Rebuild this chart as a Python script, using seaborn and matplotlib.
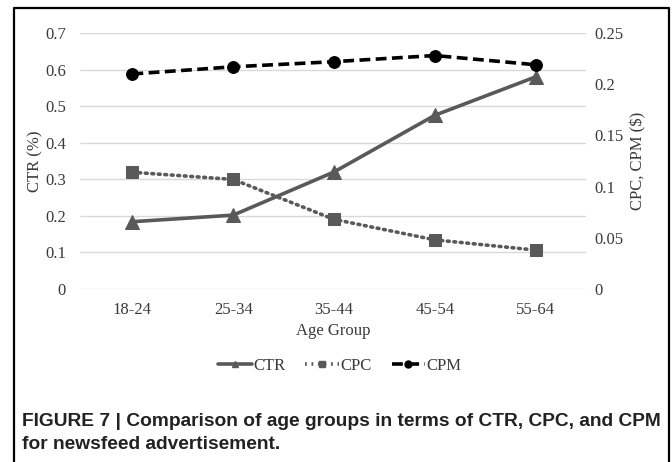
import matplotlib
matplotlib.use("Agg")
import matplotlib.pyplot as plt
from matplotlib.lines import Line2D
import seaborn as sns
import pandas as pd

age_groups = ["18-24", "25-34", "35-44", "45-54", "55-64"]
ctr = [0.184, 0.202, 0.320, 0.475, 0.580]
cpc = [0.114, 0.107, 0.068, 0.048, 0.038]
cpm = [0.210, 0.217, 0.222, 0.228, 0.219]
left_ticks = [0, 0.1, 0.2, 0.3, 0.4, 0.5, 0.6, 0.7]
left_labels = ["0", "0.1", "0.2", "0.3", "0.4", "0.5", "0.6", "0.7"]
right_ticks = [0, 0.05, 0.1, 0.15, 0.2, 0.25]
right_labels = ["0", "0.05", "0.1", "0.15", "0.2", "0.25"]
caption = ("FIGURE 7 | Comparison of age groups in terms of CTR, CPC, and CPM\n"
           "for newsfeed advertisement.")

sns.set_theme(style="white")
plt.rcParams["font.family"] = ["Liberation Serif", "DejaVu Serif"]

df = pd.DataFrame({"Age Group": age_groups, "CTR": ctr, "CPC": cpc, "CPM": cpm})

W, H = 672, 462
fig = plt.figure(figsize=(W / 100, H / 100), dpi=100)
ax = fig.add_axes([80 / W, 1 - 289 / H, (586 - 80) / W, (289 - 33) / H])
ax2 = ax.twinx()

gray = "#595959"
txt = "#3a3a3a"
sns.lineplot(data=df, x="Age Group", y="CTR", ax=ax, color=gray, lw=2.6,
             marker="^", markersize=10, markeredgecolor=gray, sort=False, zorder=3)
sns.lineplot(data=df, x="Age Group", y="CPC", ax=ax2, color=gray, lw=2.6,
             marker="s", markersize=8.5, markeredgecolor=gray, sort=False,
             dashes=False, zorder=3)
sns.lineplot(data=df, x="Age Group", y="CPM", ax=ax2, color="black", lw=2.6,
             marker="o", markersize=8.5, markeredgecolor="black", sort=False,
             dashes=False, zorder=3)
lines2 = ax2.get_lines()
lines2[0].set_linestyle((0, (0.5, 1.3)))
lines2[0].set_dash_capstyle("round")
lines2[1].set_linestyle((0, (3.0, 1.5)))

ax.set_xlim(-0.52, 4.5)
ax.set_ylim(0, 0.7)
ax2.set_ylim(0, 0.25)
ax.set_yticks(left_ticks)
ax.set_yticklabels(left_labels)
ax2.set_yticks(right_ticks)
ax2.set_yticklabels(right_labels)
ax.yaxis.grid(True, color="#d9d9d9", lw=1)
ax.set_axisbelow(True)
for a in (ax, ax2):
    for s in a.spines.values():
        s.set_visible(False)
    a.tick_params(length=0, labelsize=12, colors=txt)
ax.tick_params(axis="y", pad=10)
ax2.tick_params(axis="y", pad=6)
ax.tick_params(axis="x", pad=9)
ax.set_xlabel("Age Group", fontsize=12, color=txt, labelpad=4)
ax.set_ylabel("CTR (%)", fontsize=12, color=txt, labelpad=1)
ax2.set_ylabel("CPC, CPM ($)", fontsize=12, color=txt, labelpad=5)

handles = [
    Line2D([], [], color=gray, lw=2.6, marker="^", markersize=5),
    Line2D([], [], color=gray, lw=2.6, ls=(0, (0.5, 1.3)), marker="s", markersize=5),
    Line2D([], [], color="black", lw=2.6, ls=(0, (3.0, 1.5)), marker="o", markersize=5),
]
fig.legend(handles, ["CTR", "CPC", "CPM"], loc="center", bbox_to_anchor=(340 / W, 1 - 366 / H),
           ncol=3, frameon=False, fontsize=12, handlelength=2.0, handletextpad=0.1,
           columnspacing=1.2, labelcolor=txt)

fig.text(22 / W, 1 - 433 / H, caption, ha="left", va="center", fontsize=13.8,
         fontweight="bold", family=["Liberation Sans", "DejaVu Sans"], color="#222222",
         linespacing=1.4)

fig.add_artist(Line2D([14 / W, 14 / W, 669 / W, 669 / W], [0, 1 - 8 / H, 1 - 8 / H, 0],
                      transform=fig.transFigure, color="black", lw=1.6))

fig.savefig("out.png", dpi=100)
